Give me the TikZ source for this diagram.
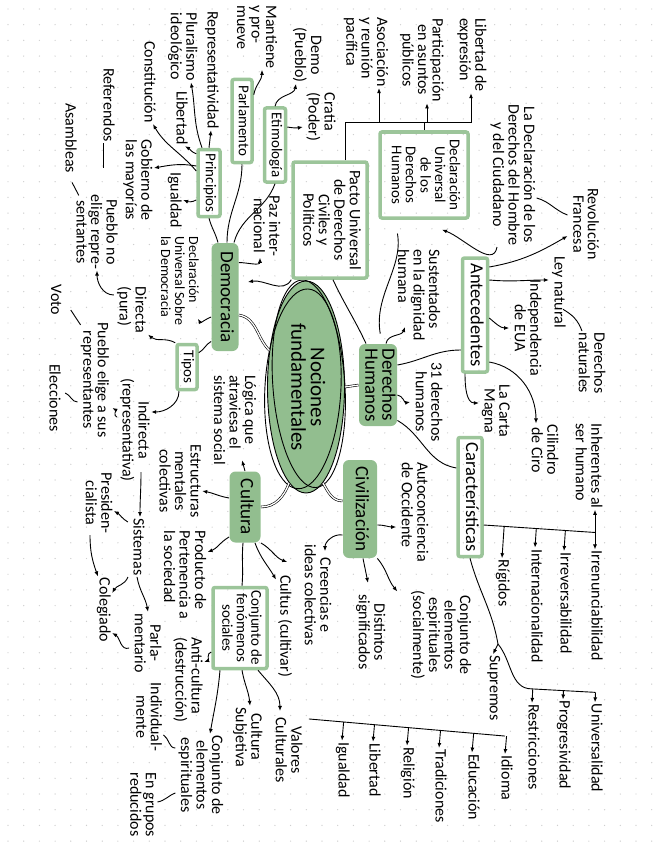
\documentclass[tikz,border=0pt]{standalone}
\usepackage{fontspec}
\setmainfont{Carlito}
\usepackage{graphicx}
\usepackage{tikz}
\usetikzlibrary{
    calc,
    arrows.meta,
    shapes.geometric
}
\definecolor{sage}{HTML}{92BE8F}
\definecolor{sageline}{HTML}{9CC59A}
\definecolor{dotgray}{HTML}{CFCFCF}
% vertical (rotated) labels, as in the hand drawn page
\newcommand{\rt}[1]{\rotatebox{-90}{\begin{tabular}{@{}c@{}}#1\end{tabular}}}
\newcommand{\rtl}[1]{\rotatebox{-90}{\begin{tabular}{@{}l@{}}#1\end{tabular}}}

\begin{document}
\begin{tikzpicture}[
            x=1pt, y=-1pt,
            >={Latex[length=5pt,width=4pt]},
            line width=0.9pt,
            every node/.style={inner sep=1pt, font=\fontsize{16}{14.5}\selectfont},
            main box/.style={fill=sage, rounded corners=6pt, font=\fontsize{19}{16}\selectfont},
            frame box/.style={draw=sageline, line width=3.5pt, rounded corners=2pt, inner sep=2pt},
            small label/.style={font=\fontsize{15}{14}\selectfont},
            big label/.style={font=\fontsize{18.5}{16}\selectfont},
            double link/.style={double, double distance=1.3pt, line width=0.6pt}
        ]
        \useasboundingbox (0,0) rectangle (656,848);
        \foreach \i in {0,...,41}
            \foreach \j in {0,...,53}
                \fill[dotgray] (8+15.7*\i, 9+15.7*\j) circle (0.7);

        % centre
        \node[ellipse, draw, fill=sage, minimum width=77, minimum height=212, inner sep=0pt, font=\fontsize{21}{16}\selectfont] (nf) at (306,387) {\rt{Nociones\\fundamentales}};
        \draw[rotate around={4:(nf.center)}] ([xshift=3pt,yshift=3pt]nf.center) ellipse [x radius=36, y radius=104];
        \draw[rotate around={-3:(nf.center)}] ([xshift=-3pt,yshift=-2pt]nf.center) ellipse [x radius=38, y radius=100];

        % main branches
        \node[main box, minimum width=27, minimum height=108] (dem) at (225,297) {\rt{Democracia}};
        \node[main box, minimum width=38, minimum height=82] (dh) at (378,385) {\rt{Derechos\\Humanos}};
        \node[main box, minimum width=31, minimum height=71] (cul) at (245,507) {\rt{Cultura}};
        \node[main box, minimum width=34, minimum height=98] (civ) at (360,509) {\rt{Civilización}};

        \node[frame box, small label, minimum width=22, minimum height=67] (prin) at (209,183) {\rt{Principios}};
        \node[frame box, small label, minimum width=20, minimum height=83] (parl) at (242,121) {\rt{Parlamento}};
        \node[frame box, small label, minimum width=21, minimum height=74] (etim) at (275,145) {\rt{Etimología}};
        \node[frame box, small label, minimum width=20, minimum height=45] (tipos) at (187,367) {\rt{Tipos}};
        \node[frame box, minimum width=74, minimum height=116] (pacto) at (330,220) {\rt{Pacto Universal\\de Derechos\\Civiles y\\Políticos}};
        \node[frame box, font=\fontsize{15}{14}\selectfont, minimum width=88, minimum height=86] (dudh) at (424,175) {\rt{Declaración\\Universal\\de los\\Derechos\\Humanos}};
        \node[frame box, big label, minimum width=25, minimum height=114] (ant) at (475,315) {\rt{Antecedentes}};
        \node[frame box, big label, minimum width=24, minimum height=119] (car) at (470,497) {\rt{Características}};
        \node[frame box, small label, minimum width=54, minimum height=81] (cfs) at (240,628) {\rt{Conjunto de\\fenómenos\\sociales}};

        % Democracia side
        \node (rep) at (211,70) {\rt{Representatividad}};
        \node (plur) at (182,47) {\rtl{Pluralismo\\ideológico}};
        \node (lib1) at (180,118) {\rt{Libertad}};
        \node (const) at (148,82) {\rt{Constitución}};
        \node (gob) at (137,180) {\rt{Gobierno de\\las mayorías}};
        \node (igu1) at (174,200) {\rt{Igualdad}};
        \node (ref) at (107,105) {\rt{Referendos}};
        \node (asam) at (69,138) {\rt{Asambleas}};
        \node (pne) at (95,232) {\rt{Pueblo no\\elige repre-\\sentantes}};
        \node (mant) at (255,37) {\rtl{Mantiene\\y pro-\\mueve}};
        \node (demo) at (306,55) {\rt{Demo\\(Pueblo)}};
        \node (crat) at (320,117) {\rtl{Cratia\\(Poder)}};
        \node (paz) at (265,226) {\rt{Paz inter-\\nacional}};
        \node[font=\fontsize{14}{14}\selectfont] (dusd) at (178,281) {\rtl{Declaración\\Universal Sobre\\la Democracia}};
        \node (dir) at (131,310) {\rtl{Directa\\(pura)}};
        \node (ind) at (134,430) {\rt{Indirecta\\(representativa)}};
        \node (voto) at (54,300) {\rt{Voto}};
        \node (pes) at (94,380) {\rt{Pueblo elige a sus\\representantes}};
        \node (elec) at (53,398) {\rt{Elecciones}};
        \node (sist) at (137,547) {\rt{Sistemas}};
        \node (pres) at (97,503) {\rt{Presiden-\\cialista}};
        \node (coleg) at (103,610) {\rt{Colegiado}};
        \node (parlam) at (146,643) {\rt{Parla-\\mentario}};

        % Derechos Humanos side
        \node (sust) at (417,295) {\rtl{Sustentados\\en la dignidad\\humana}};
        \node (d31) at (427,402) {\rt{31 derechos\\humanos}};
        \node (asoc) at (365,52) {\rtl{Asociación\\y reunión\\pacífica}};
        \node (part) at (421,60) {\rt{Participación\\en asuntos\\públicos}};
        \node (libexp) at (471,55) {\rtl{Libertad de\\expresión}};
        \node (ddhc) at (512,175) {\rt{La Declaración de los\\Derechos del Hombre\\y del Ciudadano}};
        \node (revf) at (584,224) {\rt{Revolución\\Francesa}};
        \node (ley) at (558,292) {\rt{Ley natural}};
        \node (indep) at (526,328) {\rt{Independencia\\de EUA}};
        \node (dnat) at (590,363) {\rt{Derechos\\naturales}};
        \node (magna) at (495,411) {\rt{La Carta\\Magna}};
        \node (ciro) at (543,450) {\rt{Cilindro\\de Ciro}};
        \node (inh) at (587,466) {\rtl{Inherentes al\\ser humano}};
        \node (rig) at (502,583) {\rt{Rígidos}};
        \node (intl) at (535,606) {\rt{Internacionalidad}};
        \node (irrev) at (564,603) {\rt{Irreversabilidad}};
        \node (irren) at (595,606) {\rt{Irrenunciabilidad}};
        \node (sup) at (493,688) {\rt{Supremos}};
        \node (restr) at (532,747) {\rt{Restricciones}};
        \node (prog) at (563,745) {\rt{Progresividad}};
        \node (univ) at (595,748) {\rt{Universalidad}};

        % Cultura / Civilizacion side
        \node (logica) at (233,420) {\rtl{Lógica que\\atraviesa el\\sistema social}};
        \node (estr) at (178,481) {\rt{Estructuras\\mentales\\colectivas}};
        \node (prod) at (183,575) {\rtl{Producto de\\Pertenencia a\\la sociedad}};
        \node (cultus) at (284,626) {\rt{Cultus (cultivar)}};
        \node (creen) at (316,595) {\rt{Creencias e\\ideas colectivas}};
        \node (auto) at (413,512) {\rtl{Autoconciencia\\de Occidente}};
        \node (dist) at (370,632) {\rt{Distintos\\significados}};
        \node (cee1) at (440,635) {\rt{Conjunto de\\elementos\\espirituales\\(socialmente)}};
        \node (anti) at (187,680) {\rtl{Anti-cultura\\(destrucción)}};
        \node (indiv) at (147,717) {\rt{Individual-\\mente}};
        \node (cee2) at (200,775) {\rt{Conjunto de\\elementos\\espirituales}};
        \node (grupos) at (141,805) {\rtl{En grupos\\reducidos}};
        \node (csub) at (247,737) {\rt{Cultura\\Subjetiva}};
        \node (valc) at (287,750) {\rt{Valores\\Culturales}};
        \node (igu2) at (342,770) {\rt{Igualdad}};
        \node (lib2) at (373,770) {\rt{Libertad}};
        \node (relig) at (407,773) {\rt{Religión}};
        \node (trad) at (439,786) {\rt{Tradiciones}};
        \node (educ) at (472,787) {\rt{Educación}};
        \node (idioma) at (505,778) {\rt{Idioma}};

        % links of the centre
        \draw[double link] ([yshift=-18pt]dem.east) to[out=-10,in=135] (nf.135);
        \draw[double link] (nf.east) -- (dh.west);
        \draw[double link] (nf.-80) to[out=-60,in=180] ([yshift=8pt]civ.west);
        \draw[double link] (nf.-100) to[out=-110,in=0] (cul.east);

        % Democracia
        \draw ([xshift=-7pt]dem.north) to[out=105,in=-75] (prin.south);
        \draw ([xshift=2pt]dem.north) to[out=90,in=-90] (parl.south);
        \draw ([xshift=9pt]dem.north) to[out=75,in=-110] (etim.south);
        \draw[->] ([yshift=-20pt]dem.north east) to[out=0,in=-90] ([xshift=-5pt]paz.south);
        \draw[->] (pacto.south west) to[out=-120,in=10] ([xshift=9pt,yshift=15pt]dem.east);
        \draw ([yshift=10pt]dem.south west) to[out=-150,in=30] ([yshift=-10pt]tipos.north east);
        \draw[->] ([yshift=-20pt]dem.west) to[out=200,in=-60] ([xshift=20pt,yshift=8pt]dusd.south);

        \draw[->] (prin.north) -- (rep.south);
        \draw[->] ([xshift=-7pt]prin.north) to[out=110,in=-80] ([xshift=9pt]plur.south);
        \draw[->] ([yshift=-6pt]prin.north west) to[out=160,in=-30] ([xshift=5pt]lib1.south);
        \draw[->] ([yshift=12pt]prin.west) to[out=130,in=-60] ([xshift=5pt]const.south);
        \draw[->] ([yshift=17pt]prin.west) to[out=170,in=10] ([yshift=12pt]gob.east);
        \draw[->] ([yshift=-17pt]prin.west) to[out=-150,in=-20] (igu1.east);
        \draw[shorten >=25pt] ([xshift=-4pt]ref.south) -- ([xshift=8pt]pne.north);
        \draw ([xshift=3pt,yshift=-8pt]asam.south) -- ([xshift=8pt,yshift=-2pt]pne.north west);

        \draw[->] ([yshift=-17pt]parl.north east) to[out=80,in=-90] ([xshift=7pt]mant.south);
        \draw[->] (etim.north) to[out=80,in=-100] ([xshift=-10pt]demo.south);
        \draw[->] ([yshift=18pt]etim.east) to[out=-10,in=190] ([yshift=-10pt]crat.west);

        \draw[->] (tipos.north west) to[out=150,in=-40] (dir.south east);
        \draw[->] ([xshift=-8pt]tipos.south) to[out=-90,in=0] ([yshift=18pt]ind.east);
        \draw[->] ([yshift=15pt]dir.west) to[out=180,in=-90] ([xshift=2pt]pne.south);
        \draw ([xshift=8pt,yshift=-10pt]voto.east) -- ([xshift=3pt,yshift=-4pt]pes.north west);
        \draw ([xshift=3pt,yshift=5pt]elec.east) to[out=-20,in=180] ([yshift=-22pt]pes.west);
        \draw[->] ([yshift=13pt]ind.west) to[out=160,in=-30] ([xshift=2pt,yshift=-28pt]pes.east);
        \draw[->] ([xshift=7pt,yshift=11pt]ind.south) to[out=-90,in=90] ([xshift=3pt]sist.north);
        \draw[->] ([yshift=25pt]sist.west) to[out=150,in=-30] ([yshift=-8pt]pres.east);
        \draw[->] ([yshift=-30pt]sist.west) to[out=-110,in=60] ([yshift=17pt]coleg.east);
        \draw[->] ([xshift=-7pt]pres.south) to[out=-90,in=110] ([xshift=-5pt]coleg.north);
        \draw[->] (sist.south) to[out=-80,in=100] ([xshift=2pt]parlam.north);
        \draw[->] ([yshift=-5pt]parlam.west) to[out=200,in=-30] ([yshift=-23pt]coleg.east);

        % Declaracion / Pacto
        \coordinate (bus) at (0,122);
        \coordinate (asocend) at ([xshift=14pt]asoc.south);
        \coordinate (partend) at ([xshift=6pt]part.south);
        \draw[->] ([xshift=15pt]pacto.north) |- (bus -| libexp.south) -- (libexp.south);
        \draw (dudh.north) -- (dudh.north |- bus);
        \draw[->] (partend |- bus) -- (partend);
        \draw[->] (asocend |- bus) -- (asocend);
        \draw[double link] ([yshift=15pt]pacto.east) -- ([yshift=-30pt]dudh.west);
        \draw[shorten <=14pt, shorten >=10pt] ([xshift=-29pt]dudh.south) to[out=-80,in=100] ([xshift=4pt]dh.north);
        \draw[->] ([xshift=-15pt]ddhc.south) to[out=-100,in=-20] ([xshift=18pt,yshift=-10pt]dudh.south);
        \draw ([yshift=-23pt]ddhc.east) to[out=-15,in=160] ([yshift=9pt]revf.west);

        % Derechos Humanos
        \draw ([xshift=3pt]pacto.south) to[out=-65,in=115] ([xshift=-12pt]dh.north);
        \draw[->] ([xshift=8pt]dh.north) to[out=80,in=-110] ([xshift=-12pt,yshift=15pt]sust.south);
        \draw[->] ([yshift=-10pt]dh.east) to[out=-10,in=190] (d31.west);
        \draw ([yshift=20pt]dh.east) to[out=10,in=180] ([yshift=-35pt]ant.west);
        \draw ([yshift=6pt]dh.south east) to[out=-30,in=170] ([yshift=29pt]car.west);

        \draw[->] ([yshift=48pt]ant.east) to[out=10,in=-150] ([yshift=-12pt]revf.west);
        \draw[->] ([yshift=35pt]ant.east) to[out=-5,in=180] ([yshift=12pt]ley.west);
        \draw[->] ([yshift=-3pt]ant.east) to[out=-40,in=180] (indep.west);
        \draw[->] ([yshift=-47pt]ant.east) to[out=-10,in=90] ([xshift=-7pt]ciro.north);
        \draw[->] ([xshift=-10pt]ant.south) to[out=-90,in=180] ([yshift=8pt]magna.west);
        \draw ([xshift=5pt,yshift=20pt]ley.south) to[out=-30,in=110] ([xshift=-8pt]dnat.north);

        \coordinate (cb1) at ([yshift=-28pt]car.east);
        \coordinate (cb2) at ([yshift=17pt]irren.north);
        \draw (cb1) -- (cb2);
        \foreach \n in {rig,intl,irrev}
            \draw[->] ($(cb1)!(\n.north)!(cb2)$) -- (\n.north);
        \draw[<->] ([xshift=8pt]inh.south) -- (irren.north);

        \coordinate (cc1) at ([yshift=14pt]restr.north);
        \coordinate (cc2) at ([yshift=10pt]univ.north);
        \coordinate (supc) at ([xshift=5pt,yshift=10pt]sup.north);
        \draw (car.south) to[out=-75,in=100] (supc) to[out=-50,in=180] (cc1) -- (cc2);
        \foreach \n in {restr,prog,univ}
            \draw[->] ($(cc1)!(\n.north)!(cc2)$) -- (\n.north);
        \draw[->] (supc) -- (sup.north);

        % Cultura
        \draw[->] (cul.north) -- ([xshift=9pt,yshift=6pt]logica.south);
        \draw[->] ([yshift=9pt]cul.west) to[out=170,in=-10] ([yshift=-10pt]estr.east);
        \draw[->] ([yshift=-30pt]cul.west) to[out=-150,in=20] ([yshift=23pt]prod.east);
        \draw ([xshift=-2pt]cul.south) to[out=-95,in=85] ([xshift=2pt]cfs.north);
        \draw[->] ([xshift=10pt]cul.south) to[out=-70,in=120] ([xshift=-8pt,yshift=-6pt]cultus.north);
        \draw[->] (cul.south east) to[out=-30,in=160] ([xshift=-12pt,yshift=33pt]creen.west);

        \draw[->] ([yshift=-24pt]cfs.west) to[out=190,in=20] ([yshift=18pt]anti.east);
        \draw[->] ([xshift=-20pt]cfs.south) to[out=-95,in=80] ([xshift=10pt]cee2.north);
        \draw[->] ([xshift=2pt]cfs.south) to[out=-80,in=95] ([xshift=3pt]csub.north);
        \draw[->] ([xshift=18pt]cfs.south) to[out=-50,in=90] ([xshift=-7pt,yshift=5pt]valc.north);
        \draw ([yshift=-18pt]indiv.east) to[out=-30,in=180] ([yshift=27pt]cee2.west);
        \draw ([yshift=-18pt]cee2.west) to[out=-160,in=10] ([yshift=3pt]grupos.east);

        \coordinate (vb1) at ([xshift=5pt,yshift=-3pt]valc.north east);
        \coordinate (vb2) at ([yshift=18pt]idioma.north);
        \draw (vb1) -- (vb2);
        \foreach \n in {igu2,lib2,relig,trad,educ,idioma}
            \draw[->] ($(vb1)!(\n.north)!(vb2)$) -- (\n.north);

        % Civilizacion
        \draw[->] ([yshift=-26pt]civ.west) to[out=170,in=90] ([xshift=9pt,yshift=-8pt]creen.north);
        \draw[->] ([yshift=-16pt]civ.east) to[out=0,in=180] ([yshift=-15pt]auto.west);
        \draw[->] ([xshift=3pt]civ.south) -- ([xshift=-2pt,yshift=10pt]dist.north);
        \draw[->] (civ.south east) to[out=-50,in=130] ([xshift=-10pt,yshift=-2pt]cee1.north west);
    \end{tikzpicture}
\end{document}
